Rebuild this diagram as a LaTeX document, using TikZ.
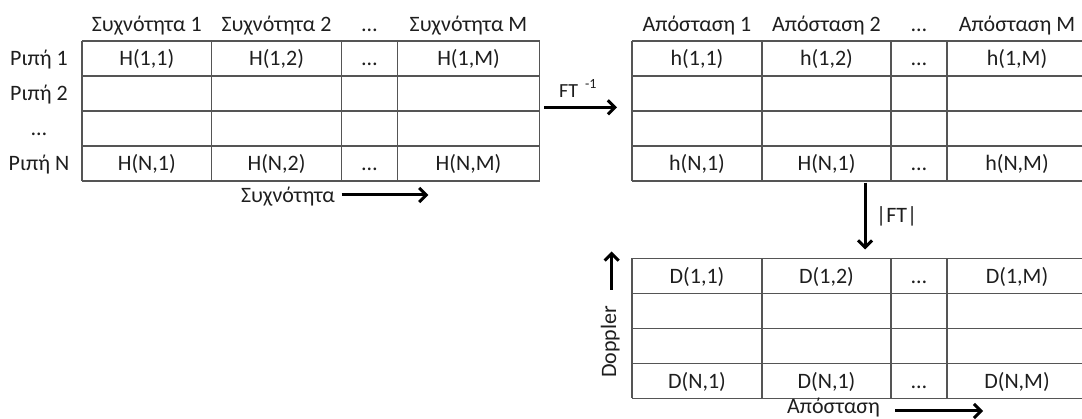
\documentclass[tikz,border=0pt]{standalone}
\usepackage{fontspec}
\setmainfont{Carlito}
\usetikzlibrary{arrows.meta}
\definecolor{gridc}{HTML}{555555}
\definecolor{txt}{HTML}{1E1E1E}
\begin{document}
\begin{tikzpicture}[x=1pt,y=-1pt,
  gridline/.style={draw=gridc, line width=1.6pt},
  lbl/.style={font=\fontsize{22}{25}\selectfont, text=txt, inner sep=0pt, anchor=base},
  smalllbl/.style={font=\fontsize{20}{22}\selectfont, text=txt, inner sep=0pt, anchor=base west},
  flow/.style={draw=black, line width=3pt, -{Straight Barb[length=7pt,width=14pt]}}]
\useasboundingbox (0,0) rectangle (1082,419);
\clip (0,0) rectangle (1082,419);

% ---------- Table A (frequency domain) ----------
\foreach \x in {82,211.5,341.5,397.5,539.5} \draw[gridline] (\x,41) -- (\x,181);
\foreach \y in {41,76,111,146,181} \draw[gridline] (82,\y) -- (539.5,\y);
\foreach \cx/\t [count=\i] in {146.75/{Συχνότητα 1},276.5/{Συχνότητα 2},369.5/{…},468.5/{Συχνότητα M}}
  \node[lbl] (Ah\i) at (\cx,31.5) {\t};
\foreach \cy/\t [count=\i] in {66/{Ριπή 1},101/{Ριπή 2},136/{…},171/{Ριπή N}}
  \node[lbl] (Ar\i) at (39,\cy) {\t};
\foreach \cx/\t [count=\i] in {146.75/{H(1,1)},276.5/{H(1,2)},369.5/{…},468.5/{H(1,M)}}
  \node[lbl] (Aa\i) at (\cx,66) {\t};
\foreach \cx/\t [count=\i] in {146.75/{H(N,1)},276.5/{H(N,2)},369.5/{…},468.5/{H(N,M)}}
  \node[lbl] (Ab\i) at (\cx,171) {\t};
\node[lbl] (fx) at (288,203) {Συχνότητα};
\coordinate (fxs) at (341.7,195);
\coordinate (fxe) at (428.3,195);
\draw[flow] (fxs) -- (fxe);

% ---------- FT^-1 ----------
\node[smalllbl] (ift) at (559,98) {FT\hspace{7pt}\raisebox{9pt}{\fontsize{14}{14}\selectfont -1}};
\coordinate (ifts) at (544.3,107.3);
\coordinate (ifte) at (617,107.3);
\draw[flow] (ifts) -- (ifte);

% ---------- Table B (range domain) ----------
\foreach \x in {632,762,891,947,1087} \draw[gridline] (\x,41) -- (\x,181);
\foreach \y in {41,76,111,146,181} \draw[gridline] (632,\y) -- (1087,\y);
\foreach \cx/\t [count=\i] in {697/{Απόσταση 1},826.5/{Απόσταση 2},919/{…},1017/{Απόσταση M}}
  \node[lbl] (Bh\i) at (\cx,31.5) {\t};
\foreach \cx/\t [count=\i] in {697/{h(1,1)},826.5/{h(1,2)},919/{…},1017/{h(1,M)}}
  \node[lbl] (Ba\i) at (\cx,66) {\t};
\foreach \cx/\t [count=\i] in {697/{h(N,1)},826.5/{H(N,1)},919/{…},1017/{h(N,M)}}
  \node[lbl] (Bb\i) at (\cx,171) {\t};

% ---------- |FT| ----------
\coordinate (fts) at (865,182.7);
\coordinate (fte) at (865,249.5);
\draw[flow] (fts) -- (fte);
\node[lbl, anchor=base west] (aft) at (876,223) {|FT|};

% ---------- Table C (range-Doppler) ----------
\foreach \x in {632,762,891,947,1087} \draw[gridline] (\x,258.5) -- (\x,398.5);
\foreach \y in {258.5,293.5,328.5,363.5,398.5} \draw[gridline] (632,\y) -- (1087,\y);
\foreach \cx/\t [count=\i] in {697/{D(1,1)},826.5/{D(1,2)},919/{…},1017/{D(1,M)}}
  \node[lbl] (Ca\i) at (\cx,283.5) {\t};
\foreach \cx/\t [count=\i] in {697/{D(N,1)},826.5/{D(N,1)},919/{…},1017/{D(N,M)}}
  \node[lbl] (Cb\i) at (\cx,388.5) {\t};
\node[lbl, rotate=90] (dop) at (616,342) {Doppler};
\coordinate (dops) at (611.7,290);
\coordinate (dope) at (611.7,251.5);
\draw[flow] (dops) -- (dope);
\node[lbl] (rng) at (833.5,413.5) {Απόσταση};
\coordinate (rngs) at (895,411);
\coordinate (rnge) at (983,411);
\draw[flow] (rngs) -- (rnge);
\end{tikzpicture}
\end{document}
